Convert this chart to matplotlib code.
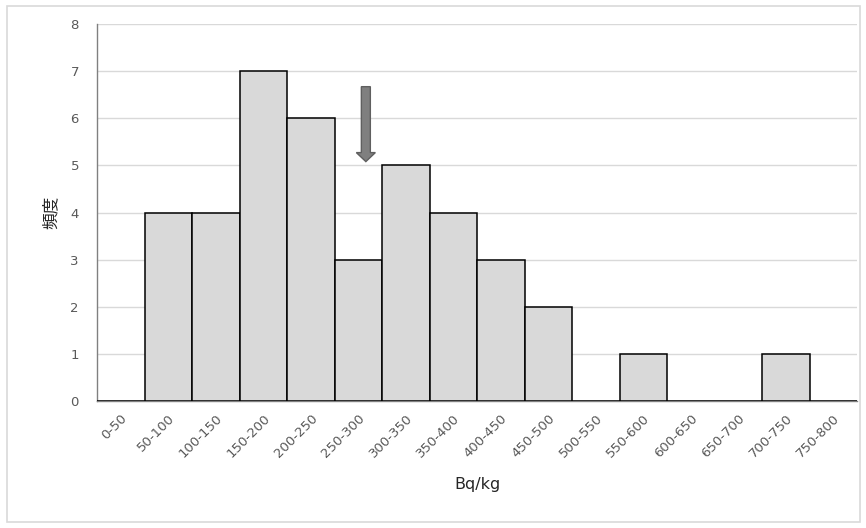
import matplotlib
matplotlib.use("Agg")
import matplotlib.pyplot as plt
from matplotlib.patches import Rectangle, FancyArrow

plt.rcParams['font.family'] = ['DejaVu Sans', 'Noto Sans CJK JP']

categories = ["0-50", "50-100", "100-150", "150-200", "200-250", "250-300",
              "300-350", "350-400", "400-450", "450-500", "500-550", "550-600",
              "600-650", "650-700", "700-750", "750-800"]
counts = [0, 4, 4, 7, 6, 3, 5, 4, 3, 2, 0, 1, 0, 0, 1, 0]
y_ticks = [0, 1, 2, 3, 4, 5, 6, 7, 8]
arrow_x = 5.16
arrow_top = 6.67
arrow_tip = 5.08

fig = plt.figure(figsize=(8.66, 5.28), dpi=100)
fig.patches.append(Rectangle((7/866, 6/528), 853/866, 516/528, transform=fig.transFigure,
                             fill=False, edgecolor='#d9d9d9', linewidth=1.2))
ax = fig.add_axes([97/866, (528-401)/528, 760/866, 377/528])

x = list(range(len(categories)))
ax.bar(x, counts, width=1.0, color='#d9d9d9', edgecolor='black', linewidth=1.1, zorder=3)
ax.set_xlim(-0.5, len(categories) - 0.5)
ax.set_ylim(0, 8)
ax.set_yticks(y_ticks)
ax.grid(axis='y', color='#d9d9d9', linewidth=1.0, zorder=0)
ax.set_axisbelow(True)
for s in ['top', 'right']:
    ax.spines[s].set_visible(False)
ax.spines['left'].set_color('#808080')
ax.spines['bottom'].set_color('#808080')
ax.spines['left'].set_linewidth(1.0)
ax.spines['bottom'].set_linewidth(1.0)
ax.tick_params(axis='both', length=0, colors='#595959', labelsize=9.5)
ax.tick_params(axis='y', pad=13)
ax.set_xticks(x)
ax.set_xticklabels(categories, rotation=45, ha='right', va='top', rotation_mode='anchor')
ax.tick_params(axis='x', pad=8)

ax.set_xlabel('Bq/kg', fontsize=11.5, color='#262626', labelpad=12)
ax.set_ylabel('頻度', fontsize=12, color='#262626', labelpad=8,
              family=['Noto Sans CJK JP', 'DejaVu Sans'])

arr = FancyArrow(arrow_x, arrow_top, 0, arrow_tip - arrow_top, width=9/47.5,
                 head_width=19/47.5, head_length=9/47.1, length_includes_head=True,
                 facecolor='#7f7f7f', edgecolor='#5f5f5f', linewidth=1.0, zorder=5)
ax.add_patch(arr)

fig.savefig('out.png', dpi=100)
